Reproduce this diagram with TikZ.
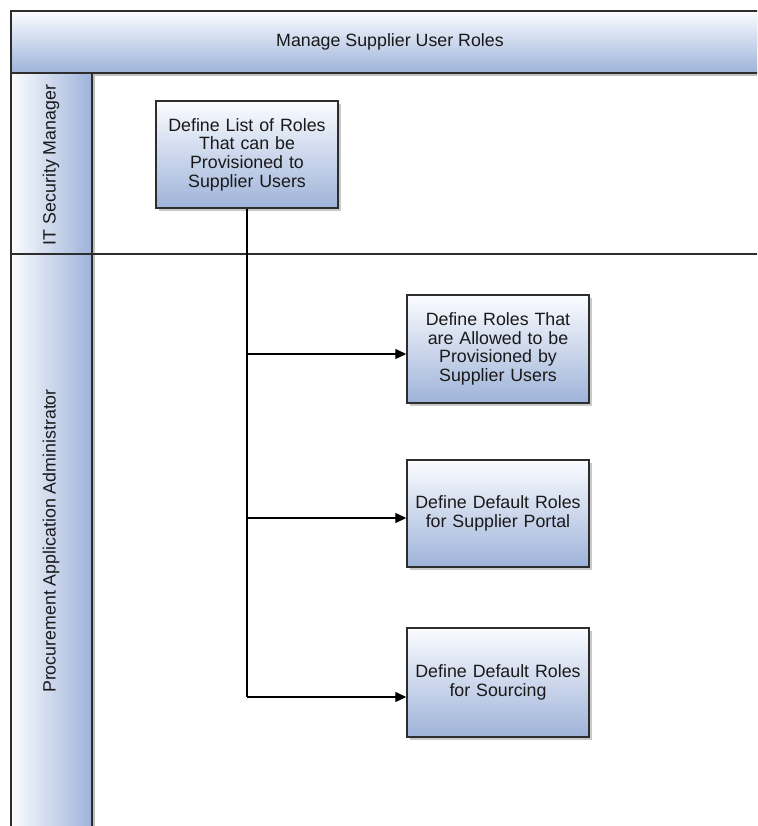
\documentclass[tikz,border=0pt]{standalone}
\usepackage{fontspec}
\setmainfont{Liberation Sans}
\usetikzlibrary{arrows.meta,shadows}
\definecolor{laneblue}{RGB}{158,179,217}
\definecolor{topwhite}{RGB}{251,252,255}
\definecolor{edge}{RGB}{45,45,45}
\definecolor{txt}{RGB}{25,25,25}
\tikzset{
  x=1pt, y=-1pt,
  lbl/.style={text=txt, font=\fontsize{17.8}{18.6}\selectfont},
  task/.style={lbl, draw=edge, line width=1.4pt, top color=topwhite, bottom color=laneblue,
    minimum width=182pt, text width=176pt, align=center, inner sep=0pt,
    drop shadow={shadow xshift=3pt, shadow yshift=-3pt, fill=black!35, opacity=0.6}},
  band/.style={draw=edge, line width=1.4pt, top color=topwhite, bottom color=laneblue},
  lanebox/.style={draw=edge, line width=1.4pt, left color=topwhite, right color=laneblue},
  conn/.style={draw=black, line width=1.3pt},
  arr/.style={conn, -{Triangle[length=11pt,width=10pt]}},
}
\begin{document}
\begin{tikzpicture}
\clip (0,0) rectangle (757,826);
\fill[white] (0,0) rectangle (757,826);
% header and lanes
\fill[black!25] (13,14) rectangle (780,76);
\path[band] (11,11) rectangle (780,73);
\node[lbl] (title) at (390,42) {Manage Supplier User Roles};
\path[lanebox] (11,73) rectangle (92,254);
\path[lanebox] (11,254) rectangle (92,840);
\draw[draw=black!25, line width=2pt] (94,75) -- (94,840);
\draw[draw=edge, line width=1.4pt] (92,254) -- (780,254);
\node[lbl, rotate=90] (lane1) at (51,165) {IT Security Manager};
\node[lbl, rotate=90] (lane2) at (51,541) {Procurement Application Administrator};
% tasks
\node[task, minimum height=107pt] (b1) at (247,154.5) {Define List of Roles\\That can be\\Provisioned to\\Supplier Users};
\node[task, minimum height=108pt] (b2) at (498,349) {Define Roles That\\are Allowed to be\\Provisioned by\\Supplier Users};
\node[task, minimum height=107pt] (b3) at (498,513.5) {Define Default Roles\\for Supplier Portal};
\node[task, minimum height=109pt] (b4) at (498,682.5) {Define Default Roles\\for Sourcing};
% connectors
\coordinate (j2) at (247,354);
\coordinate (j3) at (247,518);
\coordinate (j4) at (247,697);
\draw[conn] (b1.south) -- (j4);
\draw[arr] (j2) -- (b2.west |- j2);
\draw[arr] (j3) -- (b3.west |- j3);
\draw[arr] (j4) -- (b4.west |- j4);
\end{tikzpicture}
\end{document}
